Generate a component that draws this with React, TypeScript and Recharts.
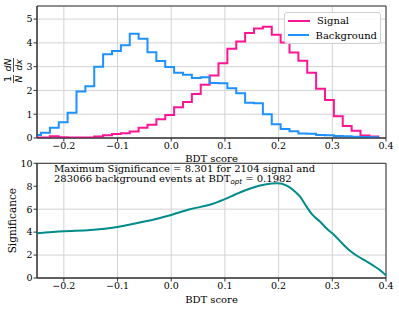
import React from 'react';
import { LineChart, Line, XAxis, YAxis, CartesianGrid, ReferenceArea, Legend, Label } from 'recharts';

// histogram binning (39 bins, left edge sits just outside the x range)
const binStart = -0.2591;
const binWidth = 0.01653;

const signalHist = [
  0.02, 0.02, 0.07, 0.03, 0.02, 0.02, 0.02, 0.06, 0.12, 0.17,
  0.2, 0.27, 0.43, 0.56, 0.79, 0.97, 1.29, 1.51, 1.85, 2.24,
  2.63, 3.14, 3.75, 4.06, 4.42, 4.6, 4.68, 4.34, 4.02, 3.6,
  3.25, 2.74, 2.07, 1.6, 0.91, 0.5, 0.31, 0.11, 0.06,
];
const backgroundHist = [
  0.13, 0.22, 0.43, 0.66, 1.06, 1.95, 2.18, 3.0, 3.52, 3.66,
  3.9, 4.38, 4.17, 3.61, 3.24, 2.98, 2.74, 2.66, 2.52, 2.55,
  2.31, 2.3, 2.09, 1.88, 1.48, 1.46, 1.0, 0.58, 0.38, 0.28,
  0.19, 0.18, 0.13, 0.12, 0.08, 0.07, 0.05, 0.04, 0.03,
];
const seriesNames = ['Signal', 'Background'];

const scoreCuts = [
  -0.25, -0.2, -0.15, -0.1, -0.05, 0.0, 0.035, 0.07, 0.1, 0.12,
  0.15, 0.175, 0.198, 0.215, 0.227, 0.24, 0.252, 0.262, 0.277, 0.292,
  0.302, 0.317, 0.333, 0.345, 0.364, 0.379, 0.392, 0.4,
];
const significance = [
  3.9, 4.07, 4.18, 4.45, 4.92, 5.5, 6.0, 6.36, 6.88, 7.3,
  7.85, 8.15, 8.25, 8.05, 7.68, 7.09, 6.22, 5.56, 4.92, 4.2,
  3.82, 3.09, 2.37, 1.96, 1.44, 1.0, 0.57, 0.22,
];

const xTicks = [-0.2, -0.1, 0, 0.1, 0.2, 0.3, 0.4];
const histYTicks = [0, 1, 2, 3, 4, 5];
const sigYTicks = [0, 2, 4, 6, 8, 10];

const SERIF = '"DejaVu Serif", serif';
const SIGNAL = '#ff1493';
const BACKGROUND = '#1e90ff';
const TEAL = '#008b8b';
const SPINE = '#333333';
const GRID = '#d2d2d2';

const histRows: { x: number; sig: number; bkg: number }[] = [{ x: binStart, sig: 0, bkg: 0 }];
signalHist.forEach((s, i) => histRows.push({ x: binStart + i * binWidth, sig: s, bkg: backgroundHist[i] }));
const histEnd = binStart + signalHist.length * binWidth;
histRows.push({ x: histEnd, sig: signalHist[signalHist.length - 1], bkg: backgroundHist[backgroundHist.length - 1] });
histRows.push({ x: histEnd, sig: 0, bkg: 0 });

const sigRows = scoreCuts.map((x, i) => ({ x, z: significance[i] }));

const fmtX = (v: number) => (v < 0 ? '\u2212' : '') + Math.abs(v).toFixed(1);
const tickStyle = { fontFamily: SERIF, fontSize: 9.5, fill: '#000' };

const FracLabel = (props: any) => {
  const vb = props.viewBox || { y: 6, height: 132 };
  const cy = vb.y + vb.height / 2 - 1.5;
  return (
    <g transform={`translate(13.5, ${cy}) rotate(-90)`} fontFamily="DejaVu Sans" fontSize={9.5} fill="#000">
      <text x={-8.5} y={-2.2} textAnchor="middle">1</text>
      <line x1={-12.5} x2={-4.5} y1={0} y2={0} stroke="#000" strokeWidth={0.7} />
      <text x={-8.5} y={8.2} textAnchor="middle" fontStyle="italic">N</text>
      <text x={5.5} y={-2.2} textAnchor="middle" fontStyle="italic">dN</text>
      <line x1={-1.5} x2={12.5} y1={0} y2={0} stroke="#000" strokeWidth={0.7} />
      <text x={5.5} y={8.2} textAnchor="middle" fontStyle="italic">dx</text>
    </g>
  );
};

const HistLegend = (props: any) => {
  const items = [...(props.payload || [])].sort(
    (a: any, b: any) => seriesNames.indexOf(a.value) - seriesNames.indexOf(b.value),
  );
  return (
    <div
      style={{
        boxSizing: 'border-box', width: 97, height: 32, padding: '1px 3px',
        border: '1px solid #d0d0d0', borderRadius: 3, background: 'rgba(255,255,255,0.85)',
        fontFamily: SERIF, fontSize: 10, color: '#000',
      }}
    >
      {items.map((p: any) => (
        <div key={p.value} style={{ display: 'flex', alignItems: 'center', height: 14.4 }}>
          <span style={{ display: 'inline-block', width: 22, borderTop: `2px solid ${p.color}`, marginRight: 7 }} />
          {p.value}
        </div>
      ))}
    </div>
  );
};

export default function App() {
  return (
    <div style={{ position: 'absolute', left: 0, top: 0, width: 399, height: 309, background: '#fff' }}>
      <div style={{ position: 'absolute', left: 0, top: 0 }}>
        <LineChart width={399} height={163} data={histRows} margin={{ top: 6, right: 13, left: 0, bottom: 0 }}>
          <CartesianGrid stroke={GRID} />
          <XAxis
            dataKey="x" type="number" domain={[-0.25, 0.4]} ticks={xTicks} allowDataOverflow
            tickFormatter={fmtX} tick={tickStyle} tickSize={3.5} tickMargin={1} height={25}
            axisLine={{ stroke: SPINE }} tickLine={{ stroke: SPINE }}
          >
            <Label value="BDT score" position="insideBottom" offset={1.5} style={{ fontFamily: SERIF, fontSize: 10, fill: '#000' }} />
          </XAxis>
          <YAxis
            type="number" domain={[0, 5.55]} ticks={histYTicks} allowDataOverflow width={37}
            tick={tickStyle} tickSize={3.5} tickMargin={1} axisLine={{ stroke: SPINE }} tickLine={{ stroke: SPINE }}
          >
            <Label content={FracLabel} />
          </YAxis>
          <Line type="stepAfter" dataKey="sig" name={seriesNames[0]} stroke={SIGNAL} strokeWidth={2} dot={false} isAnimationActive={false} />
          <Line type="stepAfter" dataKey="bkg" name={seriesNames[1]} stroke={BACKGROUND} strokeWidth={2} dot={false} isAnimationActive={false} />
          <ReferenceArea x1={-0.25} x2={0.4} y1={0} y2={5.55} fill="none" stroke={SPINE} strokeWidth={1} />
          <Legend
            layout="vertical" align="center" verticalAlign="middle" content={HistLegend}
            wrapperStyle={{ left: 284, top: 11.7, width: 97, height: 32 }}
          />
        </LineChart>
      </div>
      <div style={{ position: 'absolute', left: 0, top: 150 }}>
        <LineChart width={399} height={159} data={sigRows} margin={{ top: 13.3, right: 13, left: 0, bottom: 0 }}>
          <CartesianGrid stroke={GRID} />
          <XAxis
            dataKey="x" type="number" domain={[-0.25, 0.4]} ticks={xTicks} allowDataOverflow
            tickFormatter={fmtX} tick={tickStyle} tickSize={3.5} tickMargin={1} height={31}
            axisLine={{ stroke: SPINE }} tickLine={{ stroke: SPINE }}
          >
            <Label value="BDT score" position="insideBottom" offset={6} style={{ fontFamily: SERIF, fontSize: 10, fill: '#000' }} />
          </XAxis>
          <YAxis
            type="number" domain={[0, 10]} ticks={sigYTicks} allowDataOverflow width={37}
            tick={tickStyle} tickSize={3.5} tickMargin={1} axisLine={{ stroke: SPINE }} tickLine={{ stroke: SPINE }}
          >
            <Label value="Significance" angle={-90} position="insideLeft" offset={12}
              style={{ fontFamily: SERIF, fontSize: 10.5, fill: '#000', textAnchor: 'middle' }} />
          </YAxis>
          <Line type="monotone" dataKey="z" stroke={TEAL} strokeWidth={2} dot={false} isAnimationActive={false} />
          <ReferenceArea x1={-0.25} x2={0.4} y1={0} y2={10} fill="none" stroke={SPINE} strokeWidth={1} />
        </LineChart>
      </div>
      <div
        style={{
          position: 'absolute', left: 54, top: 164.2, fontFamily: SERIF, fontSize: 10,
          lineHeight: '9.6px', color: '#000', whiteSpace: 'nowrap',
        }}
      >
        <div>Maximum Significance = 8.301 for 2104 signal and</div>
        <div>
          283066 background events at BDT
          <span style={{ fontFamily: '"DejaVu Sans", sans-serif', fontStyle: 'italic', fontSize: 7, position: 'relative', top: 2, lineHeight: 0 }}>opt</span>
          {' '}= 0.1982
        </div>
      </div>
    </div>
  );
}
